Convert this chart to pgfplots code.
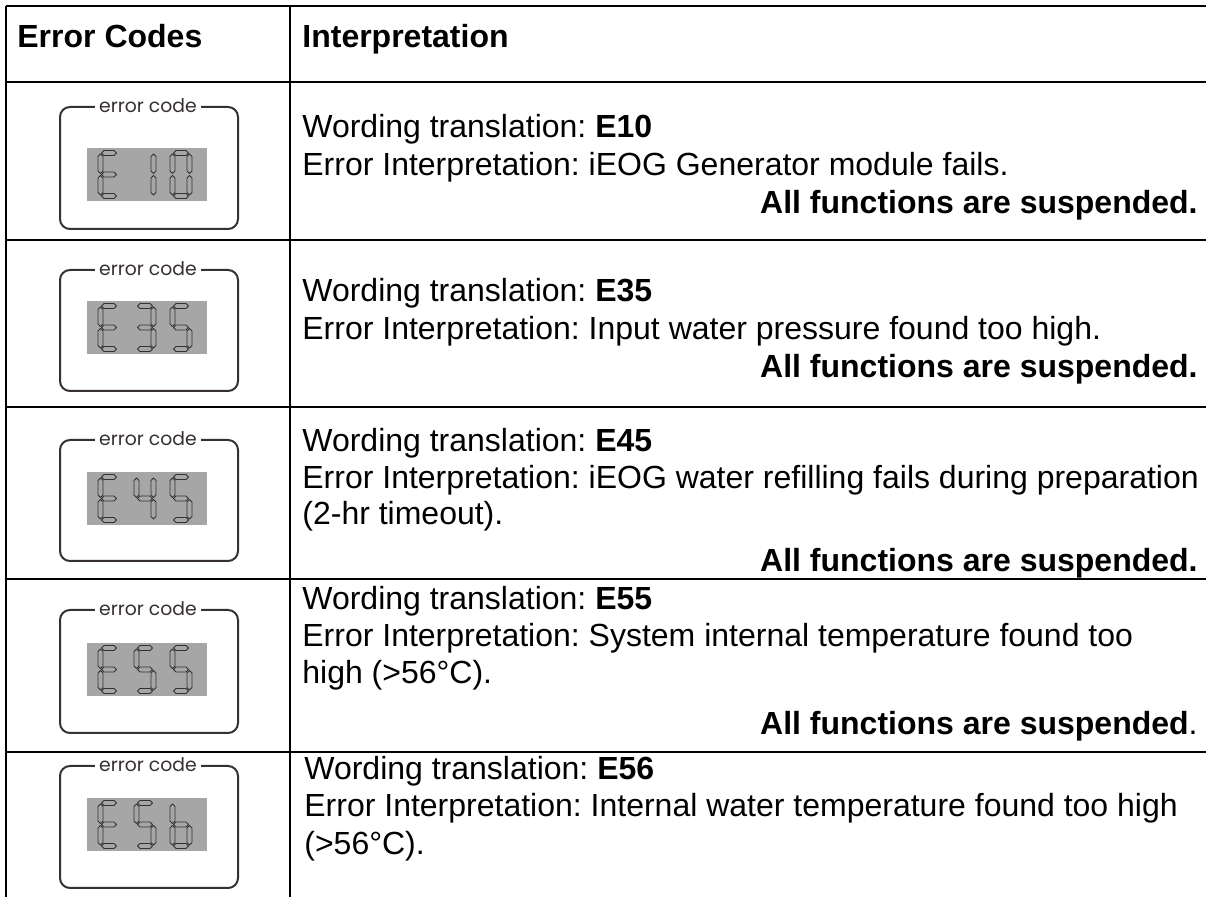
\documentclass[border=0pt]{standalone}
\usepackage{fontspec}
\setmainfont{Liberation Sans}
\newfontfamily\lcdfont{Poppins}
\usepackage{pgfplots}
\pgfplotsset{compat=1.18}
\frenchspacing
\definecolor{lcd}{RGB}{166,166,166}
\definecolor{boxline}{RGB}{55,48,48}
\definecolor{segline}{RGB}{50,50,50}
\newcommand\body{\fontsize{16}{19}\selectfont}
% seven-segment pieces (axis pixel units)
\newcommand\hseg[3]{\draw[segline, line width=0.45pt, line join=round] ({#1},{#3}) -- ({#1+2.5},{#3-2.5}) -- ({#2-2.5},{#3-2.5}) -- ({#2},{#3}) -- ({#2-2.5},{#3+2.5}) -- ({#1+2.5},{#3+2.5}) -- cycle;}
\newcommand\vseg[3]{\draw[segline, line width=0.45pt, line join=round] ({#1},{#2}) -- ({#1+2.5},{#2+2.5}) -- ({#1+2.5},{#3-2.5}) -- ({#1},{#3}) -- ({#1-2.5},{#3-2.5}) -- ({#1-2.5},{#2+2.5}) -- cycle;}
\newcommand\segA[2]{\hseg{#1+3.5}{#1+18.5}{#2+2.5}}
\newcommand\segG[2]{\hseg{#1+3.5}{#1+18.5}{#2+24}}
\newcommand\segD[2]{\hseg{#1+3.5}{#1+18.5}{#2+45.5}}
\newcommand\segF[2]{\vseg{#1+2.5}{#2+3.5}{#2+23}}
\newcommand\segB[2]{\vseg{#1+19.5}{#2+3.5}{#2+23}}
\newcommand\segE[2]{\vseg{#1+2.5}{#2+25}{#2+44.5}}
\newcommand\segC[2]{\vseg{#1+19.5}{#2+25}{#2+44.5}}
\newcommand\dE[2]{\segA{#1}{#2}\segD{#1}{#2}\segE{#1}{#2}\segF{#1}{#2}\segG{#1}{#2}}
\newcommand\dOne[2]{\segB{#1}{#2}\segC{#1}{#2}}
\newcommand\dZero[2]{\segA{#1}{#2}\segB{#1}{#2}\segC{#1}{#2}\segD{#1}{#2}\segE{#1}{#2}\segF{#1}{#2}}
\newcommand\dThree[2]{\segA{#1}{#2}\segB{#1}{#2}\segC{#1}{#2}\segD{#1}{#2}\segG{#1}{#2}}
\newcommand\dFive[2]{\segA{#1}{#2}\segC{#1}{#2}\segD{#1}{#2}\segF{#1}{#2}\segG{#1}{#2}}
\newcommand\dFour[2]{\segB{#1}{#2}\segC{#1}{#2}\segF{#1}{#2}\segG{#1}{#2}}
\newcommand\dSix[2]{\segC{#1}{#2}\segD{#1}{#2}\segE{#1}{#2}\segF{#1}{#2}\segG{#1}{#2}}
% icon: box top, box bottom, display top
\newcommand\icon[3]{%
 \draw[boxline, line width=1pt, rounded corners=5pt] (60,#1) rectangle (238,#2);
 \fill[lcd] (87,#3) rectangle (207,{#3+53});
 \node[fill=white, inner xsep=2pt, inner ysep=0.5pt, anchor=mid, font=\lcdfont\fontsize{9.4}{11}\selectfont, text=boxline] at (148,#1) {error code};
}
\begin{document}
\begin{tikzpicture}
\begin{axis}[width=603pt, height=448.5pt, scale only axis,
  xmin=0, xmax=1206, ymin=0, ymax=897, y dir=reverse, hide axis]
\fill[white] (0,0) rectangle (1206,897);
% table rules
\draw[black, line width=1.3pt] (6,6) -- (1206,6);
\draw[black, line width=1.3pt] (6,82) -- (1206,82);
\draw[black, line width=1.3pt] (6,240) -- (1206,240);
\draw[black, line width=1.3pt] (6,407) -- (1206,407);
\draw[black, line width=1.3pt] (6,579) -- (1206,579);
\draw[black, line width=1.3pt] (6,752) -- (1206,752);
\draw[black, line width=1.3pt] (6,6) -- (6,897);
\draw[black, line width=1.3pt] (290,6) -- (290,897);
% header
\node[anchor=base west, inner sep=0, font=\body\bfseries] at (17,48) {Error Codes};
\node[anchor=base west, inner sep=0, font=\body\bfseries] at (302,48) {Interpretation};
% icons
\icon{107}{229}{148}
\dE{98}{150.5}\dOne{134}{150.5}\dZero{170}{150.5}
\icon{270}{391}{301}
\dE{98}{303.5}\dThree{134}{303.5}\dFive{170}{303.5}
\icon{440}{561}{472}
\dE{98}{474.5}\dFour{134}{474.5}\dFive{170}{474.5}
\icon{610}{733}{643}
\dE{98}{645.5}\dFive{134}{645.5}\dFive{170}{645.5}
\icon{766}{888}{798}
\dE{98}{800.5}\dFive{134}{800.5}\dSix{170}{800.5}
% row 1
\node[anchor=base west, inner sep=0, font=\body] at (302,138) {Wording translation: \textbf{E10}};
\node[anchor=base west, inner sep=0, font=\body] at (302,176) {Error Interpretation: iEOG Generator module fails.};
\node[anchor=base east, inner sep=0, font=\body\bfseries] at (1198,214) {All functions are suspended.};
% row 2
\node[anchor=base west, inner sep=0, font=\body] at (302,302) {Wording translation: \textbf{E35}};
\node[anchor=base west, inner sep=0, font=\body] at (302,340) {Error Interpretation: Input water pressure found too high.};
\node[anchor=base east, inner sep=0, font=\body\bfseries] at (1198,378) {All functions are suspended.};
% row 3
\node[anchor=base west, inner sep=0, font=\body] at (302,452) {Wording translation: \textbf{E45}};
\node[anchor=base west, inner sep=0, font=\body] at (302,489) {Error Interpretation: iEOG water refilling fails during preparation};
\node[anchor=base west, inner sep=0, font=\body] at (302,525) {(2-hr timeout).};
\node[anchor=base east, inner sep=0, font=\body\bfseries] at (1198,572) {All functions are suspended.};
% row 4
\node[anchor=base west, inner sep=0, font=\body] at (302,610) {Wording translation: \textbf{E55}};
\node[anchor=base west, inner sep=0, font=\body] at (302,647) {Error Interpretation: System internal temperature found too};
\node[anchor=base west, inner sep=0, font=\body] at (302,684) {high (>56°C).};
\node[anchor=base east, inner sep=0, font=\body] at (1198,735) {\textbf{All functions are suspended}.};
% row 5
\node[anchor=base west, inner sep=0, font=\body] at (304,780) {Wording translation: \textbf{E56}};
\node[anchor=base west, inner sep=0, font=\body] at (304,817) {Error Interpretation: Internal water temperature found too high};
\node[anchor=base west, inner sep=0, font=\body] at (304,855) {(>56°C).};
\end{axis}
\end{tikzpicture}
\end{document}
